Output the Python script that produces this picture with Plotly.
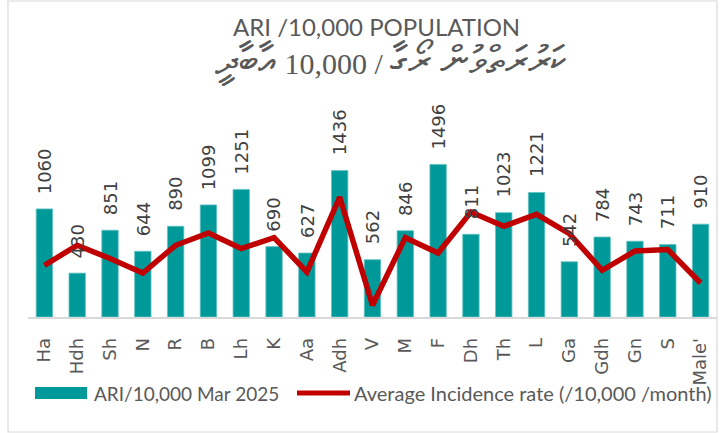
import plotly.graph_objects as go

# atolls (x categories)
atolls = ["Ha", "Hdh", "Sh", "N", "R", "B", "Lh", "K", "Aa", "Adh", "V",
          "M", "F", "Dh", "Th", "L", "Ga", "Gdh", "Gn", "S", "Male'"]

# ARI per 10,000 population, March 2025
ari_mar_2025 = [1060, 430, 851, 644, 890, 1099, 1251, 690, 627, 1436, 562,
                846, 1496, 811, 1023, 1221, 542, 784, 743, 711, 910]

# average incidence rate (/10,000 /month)
avg_incidence = [507, 703, 573, 431, 703, 824, 671, 778, 441, 1176, 115,
                 778, 627, 1029, 889, 1007, 818, 458, 647, 661, 333]

title_en = "ARI /10,000 POPULATION"
title_dv_words = ["ކަރުރަތްވުން ރޯގާ", "10,000", "އާބާދީ"]
bar_name = "ARI/10,000 Mar 2025"
line_name = "Average Incidence rate (/10,000 /month)"

W, H = 726, 433
ML, MR, MT, MB = 28, 9, 90, 116
TEAL = "#009999"
RED = "#C00000"
GREY_TXT = "#595959"


def px_x(x):
    # pixel -> paper x
    return (x - ML) / (W - ML - MR)


def px_y(y):
    # pixel -> paper y
    return (H - MB - y) / (H - MT - MB)


fig = go.Figure()

fig.add_trace(go.Bar(x=atolls, y=ari_mar_2025, name=bar_name,
                     marker=dict(color=TEAL, line=dict(color="#66C2C2", width=0.8))))

fig.add_trace(go.Scatter(x=atolls, y=avg_incidence, name=line_name, mode="lines",
                         line=dict(color=RED, width=5.5)))

# rotated data labels above the bars
for a, v in zip(atolls, ari_mar_2025):
    fig.add_annotation(x=a, y=v, text=str(v), showarrow=False, textangle=-90,
                       xanchor="center", yanchor="bottom", yshift=13,
                       font=dict(family="DejaVu Sans", size=18, color="#404040"))

# two-line title (thaana words drawn larger than the digits)
big = '<span style="font-size:40px">%s</span>'
title_dv = "%s / %s %s" % (big % title_dv_words[0], title_dv_words[1], big % title_dv_words[2])
fig.add_annotation(x=px_x(376), y=px_y(26), xref="paper", yref="paper",
                   text=title_en, showarrow=False, xanchor="center", yanchor="middle",
                   font=dict(family="Lato", size=24, color=GREY_TXT))
fig.add_annotation(x=px_x(391), y=px_y(62), xref="paper", yref="paper",
                   text=title_dv, showarrow=False, xanchor="center", yanchor="middle",
                   font=dict(family="Liberation Serif", size=30, color=GREY_TXT))

# legend drawn by hand so the swatches match the original
fig.add_shape(type="rect", xref="paper", yref="paper",
              x0=px_x(35), x1=px_x(87), y0=px_y(399), y1=px_y(387),
              fillcolor=TEAL, line=dict(width=0))
fig.add_annotation(x=px_x(92), y=px_y(393), xref="paper", yref="paper",
                   text=bar_name, showarrow=False, xanchor="left", yanchor="middle",
                   font=dict(family="Lato", size=19, color=GREY_TXT))
fig.add_shape(type="line", xref="paper", yref="paper",
              x0=px_x(297), x1=px_x(350), y0=px_y(393), y1=px_y(393),
              line=dict(color=RED, width=5))
fig.add_annotation(x=px_x(352), y=px_y(393), xref="paper", yref="paper",
                   text=line_name, showarrow=False, xanchor="left", yanchor="middle",
                   font=dict(family="Lato", size=20, color=GREY_TXT))

# outer chart border
fig.add_shape(type="rect", xref="paper", yref="paper",
              x0=px_x(8), x1=px_x(717), y0=px_y(432), y1=px_y(1),
              line=dict(color="#D9D9D9", width=1.2))

fig.update_layout(
    width=W, height=H,
    margin=dict(l=ML, r=MR, t=MT, b=MB),
    plot_bgcolor="white", paper_bgcolor="white",
    showlegend=False,
    bargap=0.5,
    xaxis=dict(showgrid=False, showline=True, linecolor="#D9D9D9", linewidth=1.5,
               tickangle=-90, ticklabelstandoff=12,
               tickfont=dict(family="DejaVu Sans", size=18, color=GREY_TXT)),
    yaxis=dict(visible=False, range=[0, 227 / 0.102]),
)

# page body has an 8px default margin, drop it so the chart sits at 0,0
fig.write_html("out.html", config={"displayModeBar": False},
               post_script="document.body.style.margin='0';")
